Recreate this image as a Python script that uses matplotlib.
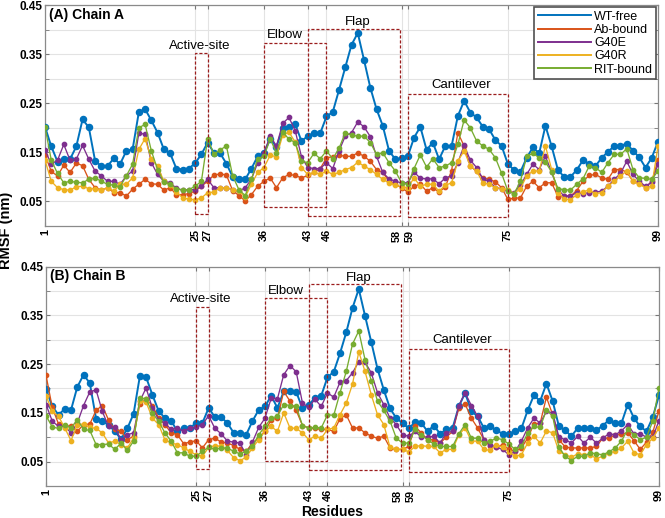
import numpy as np
import matplotlib.pyplot as plt
import matplotlib.transforms as mtransforms
from matplotlib.patches import Rectangle
from matplotlib.lines import Line2D

plt.rcParams['font.family'] = ['Liberation Sans', 'DejaVu Sans']

residues = np.arange(1, 100)
series_names = ["WT-free", "Ab-bound", "G40E", "G40R", "RIT-bound"]
colors = ["#0072BD", "#D95319", "#7E2F8E", "#EDB120", "#77AC30"]
x_ticks = [1, 25, 27, 36, 43, 46, 58, 59, 75, 99]

# highlighted regions (residue ranges)
region_names = ["Active-site", "Elbow", "Flap", "Cantilever"]
region_start = [25, 36, 43, 59]
region_end = [27, 46, 57.8, 75]

# Chain A RMSF (nm)
wt_a = [0.202, 0.162, 0.131, 0.136, 0.136, 0.162, 0.217, 0.201, 0.133, 0.122,
        0.122, 0.138, 0.126, 0.153, 0.156, 0.232, 0.238, 0.215, 0.190, 0.156,
        0.148, 0.117, 0.115, 0.117, 0.128, 0.146, 0.170, 0.149, 0.148, 0.127,
        0.100, 0.095, 0.095, 0.117, 0.142, 0.149, 0.177, 0.161, 0.200, 0.202,
        0.207, 0.173, 0.183, 0.189, 0.189, 0.223, 0.232, 0.277, 0.323, 0.369,
        0.393, 0.338, 0.282, 0.238, 0.204, 0.153, 0.136, 0.138, 0.142, 0.180,
        0.202, 0.155, 0.170, 0.136, 0.163, 0.163, 0.224, 0.255, 0.231, 0.221,
        0.202, 0.197, 0.175, 0.163, 0.126, 0.114, 0.110, 0.139, 0.160, 0.148,
        0.204, 0.162, 0.114, 0.100, 0.100, 0.114, 0.134, 0.126, 0.122, 0.139,
        0.151, 0.163, 0.163, 0.168, 0.153, 0.140, 0.119, 0.139, 0.172]
ab_a = [0.145, 0.111, 0.102, 0.124, 0.109, 0.128, 0.123, 0.095, 0.078, 0.073,
        0.078, 0.068, 0.068, 0.061, 0.075, 0.085, 0.095, 0.086, 0.085, 0.073,
        0.078, 0.064, 0.064, 0.066, 0.071, 0.081, 0.091, 0.104, 0.106, 0.104,
        0.072, 0.062, 0.051, 0.064, 0.081, 0.091, 0.098, 0.078, 0.098, 0.105,
        0.103, 0.098, 0.103, 0.109, 0.117, 0.139, 0.141, 0.144, 0.142, 0.142,
        0.149, 0.142, 0.132, 0.115, 0.109, 0.091, 0.085, 0.078, 0.069, 0.081,
        0.085, 0.071, 0.078, 0.069, 0.080, 0.113, 0.190, 0.163, 0.122, 0.111,
        0.098, 0.095, 0.090, 0.078, 0.054, 0.057, 0.057, 0.081, 0.091, 0.078,
        0.088, 0.088, 0.060, 0.061, 0.061, 0.072, 0.091, 0.103, 0.105, 0.098,
        0.095, 0.115, 0.115, 0.110, 0.091, 0.088, 0.078, 0.091, 0.134]
g40e_a = [0.155, 0.126, 0.134, 0.166, 0.134, 0.136, 0.164, 0.136, 0.112, 0.102,
          0.091, 0.091, 0.085, 0.102, 0.112, 0.189, 0.187, 0.129, 0.105, 0.091,
          0.088, 0.077, 0.073, 0.074, 0.074, 0.081, 0.095, 0.078, 0.078, 0.078,
          0.074, 0.071, 0.078, 0.095, 0.129, 0.149, 0.183, 0.163, 0.209, 0.221,
          0.194, 0.141, 0.119, 0.117, 0.117, 0.129, 0.117, 0.153, 0.183, 0.190,
          0.212, 0.202, 0.182, 0.142, 0.109, 0.096, 0.091, 0.088, 0.088, 0.110,
          0.097, 0.096, 0.096, 0.086, 0.098, 0.102, 0.129, 0.164, 0.134, 0.119,
          0.096, 0.091, 0.078, 0.076, 0.071, 0.068, 0.083, 0.105, 0.126, 0.115,
          0.142, 0.109, 0.074, 0.061, 0.061, 0.068, 0.066, 0.068, 0.069, 0.071,
          0.081, 0.095, 0.107, 0.132, 0.105, 0.091, 0.081, 0.089, 0.126]
g40r_a = [0.134, 0.091, 0.078, 0.074, 0.073, 0.080, 0.081, 0.076, 0.076, 0.073,
          0.078, 0.071, 0.085, 0.085, 0.098, 0.156, 0.178, 0.136, 0.122, 0.091,
          0.083, 0.070, 0.057, 0.055, 0.053, 0.057, 0.068, 0.069, 0.078, 0.078,
          0.074, 0.071, 0.059, 0.085, 0.109, 0.119, 0.144, 0.141, 0.185, 0.191,
          0.171, 0.119, 0.105, 0.109, 0.105, 0.112, 0.105, 0.109, 0.115, 0.119,
          0.130, 0.122, 0.115, 0.105, 0.095, 0.088, 0.083, 0.080, 0.078, 0.098,
          0.081, 0.085, 0.085, 0.071, 0.083, 0.088, 0.132, 0.153, 0.122, 0.112,
          0.088, 0.085, 0.078, 0.076, 0.074, 0.066, 0.076, 0.102, 0.112, 0.112,
          0.163, 0.115, 0.068, 0.056, 0.053, 0.064, 0.070, 0.073, 0.066, 0.068,
          0.081, 0.091, 0.102, 0.112, 0.091, 0.085, 0.078, 0.081, 0.163]
rit_a = [0.202, 0.134, 0.107, 0.088, 0.091, 0.089, 0.088, 0.095, 0.098, 0.091,
         0.085, 0.083, 0.080, 0.102, 0.126, 0.200, 0.207, 0.153, 0.115, 0.089,
         0.085, 0.076, 0.073, 0.074, 0.081, 0.091, 0.178, 0.146, 0.155, 0.163,
         0.102, 0.074, 0.062, 0.095, 0.137, 0.142, 0.177, 0.149, 0.191, 0.177,
         0.170, 0.132, 0.129, 0.148, 0.137, 0.153, 0.137, 0.158, 0.190, 0.185,
         0.183, 0.183, 0.170, 0.146, 0.149, 0.129, 0.112, 0.088, 0.085, 0.117,
         0.145, 0.120, 0.137, 0.119, 0.122, 0.129, 0.166, 0.216, 0.200, 0.173,
         0.163, 0.156, 0.139, 0.107, 0.071, 0.066, 0.091, 0.142, 0.148, 0.139,
         0.130, 0.110, 0.076, 0.074, 0.073, 0.085, 0.096, 0.122, 0.119, 0.109,
         0.129, 0.146, 0.146, 0.157, 0.115, 0.098, 0.097, 0.095, 0.112]

# Chain B RMSF (nm)
wt_b = [0.199, 0.163, 0.146, 0.158, 0.156, 0.203, 0.228, 0.211, 0.138, 0.133,
        0.125, 0.112, 0.096, 0.118, 0.148, 0.225, 0.223, 0.187, 0.154, 0.139,
        0.134, 0.112, 0.119, 0.119, 0.129, 0.129, 0.160, 0.141, 0.141, 0.129,
        0.109, 0.109, 0.105, 0.133, 0.156, 0.163, 0.185, 0.160, 0.194, 0.194,
        0.193, 0.159, 0.167, 0.180, 0.185, 0.223, 0.234, 0.272, 0.315, 0.365,
        0.404, 0.349, 0.295, 0.240, 0.197, 0.159, 0.139, 0.129, 0.118, 0.131,
        0.129, 0.112, 0.124, 0.107, 0.116, 0.119, 0.163, 0.191, 0.153, 0.143,
        0.119, 0.122, 0.114, 0.107, 0.107, 0.112, 0.118, 0.155, 0.186, 0.174,
        0.210, 0.174, 0.122, 0.114, 0.102, 0.119, 0.118, 0.118, 0.114, 0.124,
        0.135, 0.129, 0.129, 0.167, 0.139, 0.122, 0.112, 0.141, 0.186]
ab_b = [0.227, 0.161, 0.127, 0.124, 0.122, 0.112, 0.126, 0.127, 0.155, 0.165,
        0.135, 0.116, 0.112, 0.095, 0.102, 0.168, 0.178, 0.165, 0.140, 0.126,
        0.109, 0.105, 0.087, 0.090, 0.093, 0.078, 0.095, 0.098, 0.090, 0.088,
        0.083, 0.075, 0.071, 0.088, 0.098, 0.112, 0.136, 0.139, 0.194, 0.174,
        0.155, 0.124, 0.119, 0.118, 0.116, 0.116, 0.112, 0.138, 0.146, 0.119,
        0.119, 0.109, 0.102, 0.098, 0.102, 0.078, 0.075, 0.075, 0.081, 0.122,
        0.109, 0.095, 0.095, 0.088, 0.100, 0.112, 0.160, 0.168, 0.139, 0.119,
        0.095, 0.081, 0.079, 0.085, 0.075, 0.071, 0.078, 0.098, 0.127, 0.129,
        0.182, 0.146, 0.095, 0.080, 0.078, 0.078, 0.078, 0.078, 0.081, 0.098,
        0.098, 0.105, 0.107, 0.109, 0.093, 0.075, 0.090, 0.110, 0.154]
g40e_b = [0.167, 0.133, 0.122, 0.122, 0.109, 0.129, 0.165, 0.193, 0.197, 0.153,
          0.122, 0.120, 0.095, 0.105, 0.109, 0.174, 0.201, 0.160, 0.136, 0.129,
          0.116, 0.119, 0.112, 0.119, 0.120, 0.126, 0.144, 0.118, 0.107, 0.092,
          0.090, 0.088, 0.064, 0.090, 0.120, 0.139, 0.180, 0.179, 0.228, 0.247,
          0.234, 0.170, 0.161, 0.178, 0.163, 0.191, 0.182, 0.213, 0.216, 0.232,
          0.255, 0.254, 0.232, 0.191, 0.167, 0.139, 0.126, 0.105, 0.102, 0.112,
          0.100, 0.100, 0.102, 0.088, 0.109, 0.112, 0.165, 0.191, 0.165, 0.143,
          0.095, 0.085, 0.079, 0.075, 0.064, 0.071, 0.092, 0.119, 0.139, 0.129,
          0.153, 0.150, 0.100, 0.095, 0.088, 0.102, 0.088, 0.100, 0.088, 0.098,
          0.107, 0.105, 0.113, 0.126, 0.107, 0.107, 0.100, 0.100, 0.134]
g40r_b = [0.185, 0.153, 0.143, 0.119, 0.093, 0.126, 0.127, 0.120, 0.118, 0.109,
          0.088, 0.092, 0.085, 0.078, 0.098, 0.174, 0.172, 0.139, 0.126, 0.095,
          0.088, 0.085, 0.078, 0.071, 0.064, 0.061, 0.079, 0.083, 0.081, 0.073,
          0.058, 0.052, 0.059, 0.078, 0.095, 0.112, 0.122, 0.112, 0.150, 0.119,
          0.118, 0.109, 0.095, 0.102, 0.098, 0.116, 0.119, 0.146, 0.170, 0.209,
          0.275, 0.235, 0.187, 0.146, 0.126, 0.079, 0.075, 0.075, 0.070, 0.081,
          0.083, 0.081, 0.081, 0.068, 0.075, 0.075, 0.105, 0.119, 0.092, 0.092,
          0.075, 0.073, 0.085, 0.079, 0.070, 0.061, 0.064, 0.088, 0.102, 0.088,
          0.113, 0.109, 0.071, 0.064, 0.059, 0.066, 0.064, 0.064, 0.056, 0.061,
          0.068, 0.071, 0.078, 0.092, 0.068, 0.064, 0.085, 0.098, 0.119]
rit_b = [0.144, 0.121, 0.118, 0.126, 0.119, 0.136, 0.116, 0.114, 0.085, 0.085,
         0.086, 0.075, 0.088, 0.073, 0.092, 0.180, 0.179, 0.150, 0.133, 0.109,
         0.092, 0.068, 0.068, 0.061, 0.061, 0.071, 0.079, 0.075, 0.078, 0.078,
         0.071, 0.066, 0.071, 0.081, 0.105, 0.122, 0.139, 0.143, 0.167, 0.165,
         0.163, 0.124, 0.119, 0.120, 0.119, 0.146, 0.145, 0.191, 0.235, 0.291,
         0.318, 0.259, 0.216, 0.174, 0.155, 0.133, 0.098, 0.088, 0.088, 0.116,
         0.104, 0.095, 0.086, 0.081, 0.081, 0.081, 0.107, 0.126, 0.098, 0.098,
         0.088, 0.092, 0.098, 0.095, 0.086, 0.075, 0.081, 0.109, 0.122, 0.120,
         0.156, 0.143, 0.079, 0.061, 0.052, 0.061, 0.061, 0.068, 0.066, 0.064,
         0.070, 0.078, 0.092, 0.116, 0.105, 0.095, 0.100, 0.133, 0.201]


# region boxes: (bottom, top) and label height, per panel
boxes_a = [(0.024, 0.353), (0.039, 0.372), (0.021, 0.402), (0.019, 0.268)]
labels_y_a = [0.367, 0.389, 0.416, 0.287]
boxes_b = [(0.034, 0.366), (0.051, 0.385), (0.032, 0.415), (0.029, 0.281)]
labels_y_b = [0.383, 0.400, 0.427, 0.300]
labels_x = [25.8, 39.3, 51.0, 67.6]
# tick labels that need a small sideways nudge (points), 58 and 59 are neighbours
nudged = {58: -3.6, 59: 1.6}


def draw_panel(ax, data, boxes, labels_y, title):
    for vals, c, name in zip(data, colors, series_names):
        big = name == "WT-free"
        ax.plot(residues, vals, '-o', color=c, lw=1.4 if big else 0.95,
                ms=4.4 if big else 3.1, zorder=3)
    for i, name in enumerate(region_names):
        y0, y1 = boxes[i]
        ax.add_patch(Rectangle((region_start[i], y0), region_end[i] - region_start[i],
                               y1 - y0, fill=False, ls=(0, (2.5, 1.5)),
                               ec='#9B1C1C', lw=0.9, zorder=4))
        ax.text(labels_x[i], labels_y[i], name, ha='center', va='center', fontsize=9.5)
    ax.text(0.006, 0.955, title, transform=ax.transAxes, ha='left', va='center',
            fontsize=10, fontweight='bold')

    # axes look
    ax.set_xlim(1, 99)
    ax.set_ylim(0, 0.45)
    ax.set_xticks(x_ticks)
    ax.set_xticklabels(['' if t in nudged else str(t) for t in x_ticks],
                       rotation=90, fontweight='bold', fontsize=7.8)
    base = ax.get_xaxis_transform()
    for t, dx in nudged.items():
        off = mtransforms.ScaledTranslation(dx / 72, -2.6 / 72, fig.dpi_scale_trans)
        ax.text(t, 0, str(t), transform=base + off, rotation=90, ha='center', va='top',
                fontweight='bold', fontsize=7.8)
    ax.set_yticks([0.05, 0.15, 0.25, 0.35, 0.45])
    ax.set_yticklabels(['0.05', '0.15', '0.25', '0.35', '0.45'], fontweight='bold', fontsize=8.5)
    ax.set_yticks([0.10, 0.20, 0.30, 0.40], minor=True)
    ax.grid(True, which='both', color='#e3e3e3', lw=0.8, zorder=0)
    ax.tick_params(which='both', direction='in', length=3, top=True, right=True,
                   color='#777777', pad=2)
    for s in ax.spines.values():
        s.set_color('#8a8a8a')
        s.set_linewidth(0.9)
    ax.set_axisbelow(True)


fig = plt.figure(figsize=(6.65, 5.18), dpi=100)
ax1 = fig.add_axes([0.0677, 0.5637, 0.9218, 0.4266])
ax2 = fig.add_axes([0.0692, 0.0618, 0.9218, 0.4237])

draw_panel(ax1, [wt_a, ab_a, g40e_a, g40r_a, rit_a], boxes_a, labels_y_a, "(A) Chain A")
draw_panel(ax2, [wt_b, ab_b, g40e_b, g40r_b, rit_b], boxes_b, labels_y_b, "(B) Chain B")

handles = [Line2D([], [], color=c, lw=1.4) for c in colors]
leg = ax1.legend(handles, series_names, loc='upper right', fontsize=9,
                 handlelength=4.2, handletextpad=0.3, labelspacing=0.1,
                 borderpad=0.3, borderaxespad=0.15, fancybox=False, framealpha=1)
leg.get_frame().set_edgecolor('#505050')
leg.get_frame().set_linewidth(1.2)
leg.set_zorder(10)

fig.text(0.009, 0.556, "RMSF (nm)", rotation=90, ha='center', va='center',
         fontsize=10.5, fontweight='bold')
fig.text(0.5, 0.011, "Residues", ha='center', va='center', fontsize=10, fontweight='bold')

fig.savefig("out.png", dpi=100)
